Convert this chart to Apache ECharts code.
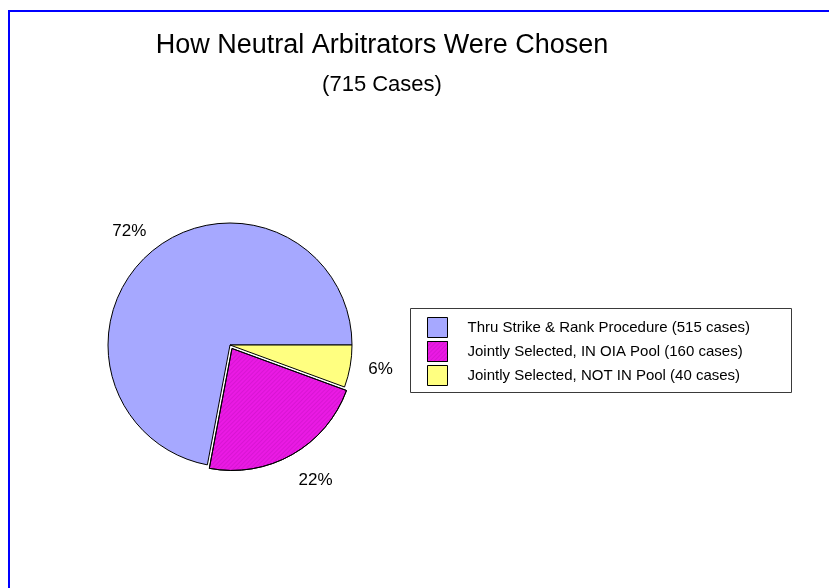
<!DOCTYPE html>
<html>
<head>
<meta charset="utf-8">
<script src="https://cdn.jsdelivr.net/npm/echarts@6/dist/echarts.min.js"></script>
<style>
html,body{margin:0;padding:0;background:#fff;}
#chart{width:829px;height:588px;}
</style>
</head>
<body>
<div id="chart"></div>
<script>
const titleText = 'How Neutral Arbitrators Were Chosen';
const subtitleText = '(715 Cases)';
const categories = [
  'Thru Strike & Rank Procedure (515 cases)',
  'Jointly Selected, IN OIA Pool (160 cases)',
  'Jointly Selected, NOT IN Pool (40 cases)'
];
const values = [515, 160, 40];
const colors = ['#A6A8FF', '#EA1AE4', '#FFFF80'];

const FONT = 'Liberation Sans, Arial, sans-serif';

const realData = categories.map((name, i) => {
  const item = { name: name, value: values[i], itemStyle: { color: colors[i] } };
  if (i === 1) {
    item.selected = true;
    item.itemStyle.decal = {
      symbol: 'rect',
      symbolSize: 1,
      dashArrayX: [1, 0],
      dashArrayY: [1, 2],
      rotation: -Math.PI / 4,
      color: 'rgba(150,0,150,0.22)'
    };
  }
  return item;
});
const labelOffsets = [[-3, 4], [10, 2], [0, -2]];
const ghostData = values.map((v, i) => ({
  name: 'lbl' + i,
  value: v,
  label: { offset: labelOffsets[i] }
}));

const chart = echarts.init(document.getElementById('chart'));
chart.setOption({
  animation: false,
  backgroundColor: '#ffffff',
  graphic: [
    { type: 'rect', shape: { x: 9, y: 11, width: 900, height: 700 },
      style: { fill: 'none', stroke: '#0000FF', lineWidth: 2 }, silent: true, z: 0 },
    { type: 'text', x: 382, y: 46,
      style: { text: titleText, font: '27px ' + FONT, fill: '#000', textAlign: 'center', textVerticalAlign: 'middle' } },
    { type: 'text', x: 382, y: 85,
      style: { text: subtitleText, font: '22px ' + FONT, fill: '#000', textAlign: 'center', textVerticalAlign: 'middle' } },
    { type: 'rect', shape: { x: 410.5, y: 308.5, width: 381, height: 84 },
      style: { fill: '#fff', stroke: '#3a3a3a', lineWidth: 1 }, silent: true, z: 1 }
  ],
  legend: {
    data: categories,
    orient: 'vertical',
    left: 427,
    top: 317,
    padding: 0,
    icon: 'rect',
    itemWidth: 20,
    itemHeight: 20,
    itemGap: 3,
    z: 5,
    selectedMode: false,
    itemStyle: { borderColor: '#000', borderWidth: 1 },
    textStyle: { fontFamily: FONT, fontSize: 15, color: '#000', padding: [0, 0, 0, 15] }
  },
  series: [
    {
      type: 'pie',
      name: 'real',
      center: [230, 345],
      radius: [0, 122],
      startAngle: 0,
      clockwise: false,
      selectedMode: 'single',
      selectedOffset: 4,
      avoidLabelOverlap: false,
      label: { show: false },
      labelLine: { show: false },
      emphasis: { disabled: true },
      itemStyle: { borderColor: '#000', borderWidth: 1 },
      data: realData
    },
    {
      type: 'pie',
      name: 'labels',
      center: [230, 345],
      radius: [140, 160],
      startAngle: 0,
      clockwise: false,
      silent: true,
      percentPrecision: 0,
      avoidLabelOverlap: false,
      itemStyle: { color: 'rgba(0,0,0,0)', borderWidth: 0 },
      emphasis: { disabled: true },
      labelLine: { show: false },
      label: {
        show: true,
        position: 'inside',
        formatter: '{d}%',
        fontFamily: FONT,
        fontSize: 17,
        color: '#000'
      },
      data: ghostData
    }
  ]
});
</script>
</body>
</html>
